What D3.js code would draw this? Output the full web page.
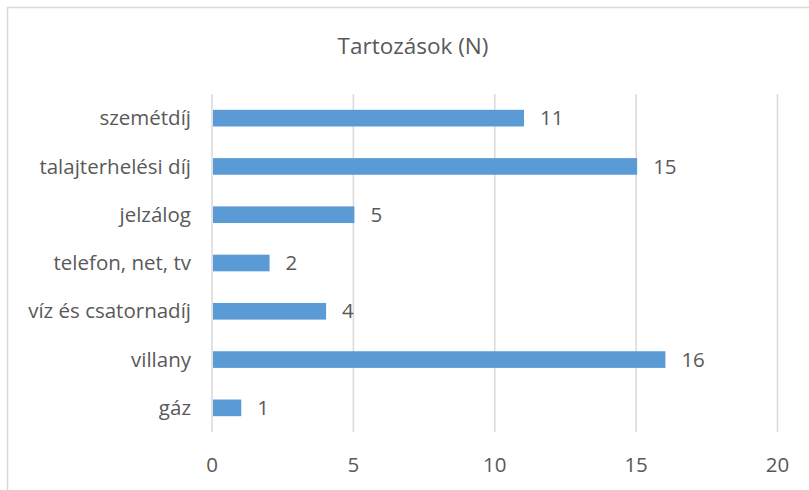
<!DOCTYPE html>
<html><head><meta charset="utf-8">
<script src="https://cdn.jsdelivr.net/npm/d3@7"></script>
<style>body{margin:0;background:#fff}svg{display:block}text{font-family:"Open Sans",sans-serif;fill:#595959}</style>
</head><body><svg id="c" width="809" height="490"></svg>
<script>
const title = "Tartozások (N)";
const categories = ["szemétdíj","talajterhelési díj","jelzálog","telefon, net, tv","víz és csatornadíj","villany","gáz"];
const values = [11,15,5,2,4,16,1];
const xTicks = [0,5,10,15,20];

const svg = d3.select("#c");
svg.append("rect").attr("x",7.5).attr("y",7.5).attr("width",810).attr("height",500)
  .attr("fill","#fff").attr("stroke","#d9d9d9").attr("stroke-width",1.5);

const m = {left:212, right:777.5, top:94, bottom:432};
const x = d3.scaleLinear().domain([0,20]).range([m.left,m.right]);
const y = d3.scaleBand().domain(categories).range([m.top,m.bottom]).paddingInner(0.655).paddingOuter(0.3275);

svg.append("g").selectAll("line").data(xTicks).join("line")
  .attr("x1",d=>x(d)).attr("x2",d=>x(d)).attr("y1",m.top).attr("y2",m.bottom)
  .attr("stroke","#d9d9d9").attr("stroke-width",1.5);

svg.append("g").selectAll("rect").data(values).join("rect")
  .attr("x",x(0)+1).attr("y",(d,i)=>y(categories[i]))
  .attr("width",d=>x(d)-x(0)).attr("height",y.bandwidth())
  .attr("fill","#5b9bd5");

const fs = 20.5;
svg.append("g").selectAll("text").data(values).join("text")
  .attr("x",d=>x(d)+17).attr("y",(d,i)=>y(categories[i])+y.bandwidth()/2)
  .attr("dy","0.35em").attr("font-size",fs).text(d=>d);

svg.append("g").selectAll("text").data(categories).join("text")
  .attr("x",m.left-21).attr("y",d=>y(d)+y.bandwidth()/2)
  .attr("dy","0.35em").attr("text-anchor","end").attr("font-size",fs).text(d=>d);

svg.append("g").selectAll("text").data(xTicks).join("text")
  .attr("x",d=>x(d)).attr("y",465).attr("dy","0.35em")
  .attr("text-anchor","middle").attr("font-size",fs).text(d=>d);

svg.append("text").attr("x",413).attr("y",46).attr("dy","0.35em")
  .attr("text-anchor","middle").attr("font-size",22.5).text(title);
</script></body></html>
